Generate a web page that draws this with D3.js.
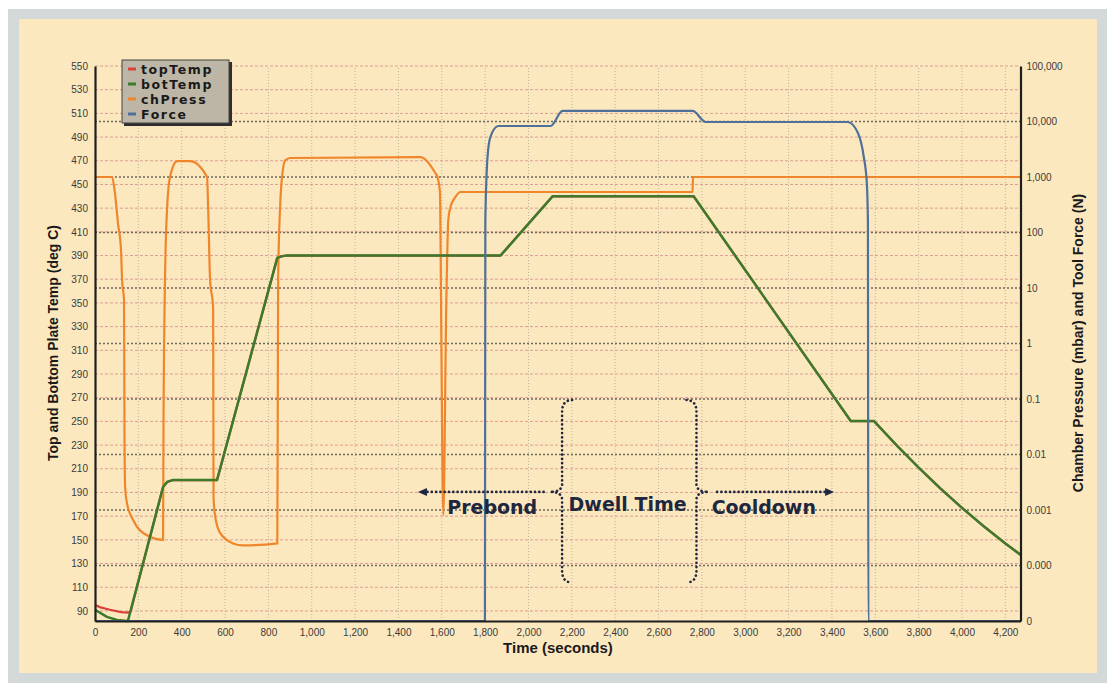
<!DOCTYPE html>
<html>
<head>
<meta charset="utf-8">
<script src="https://cdn.jsdelivr.net/npm/d3@7"></script>
<style>
  body { margin: 0; background: #fff; }
  .tick text { font-family: "Liberation Sans", Arial, sans-serif; font-size: 10px; fill: #3a3a3a; }
  .title { font-family: "Liberation Sans", Arial, sans-serif; font-weight: bold; fill: #1a1a1a; }
  .note { font-family: "DejaVu Sans", sans-serif; font-weight: bold; font-size: 19px; fill: #1f2740; }
  .legend text { font-family: "DejaVu Sans", sans-serif; font-weight: bold; font-size: 12.5px; letter-spacing: 1.6px; fill: #1a1a1a; }
</style>
</head>
<body>
<div id="chart"></div>
<script>
// tick values
const timeTicks = [0, 200, 400, 600, 800, 1000, 1200, 1400, 1600, 1800, 2000, 2200,
    2400, 2600, 2800, 3000, 3200, 3400, 3600, 3800, 4000, 4200];
const tempTicks = [90, 110, 130, 150, 170, 190, 210, 230, 250, 270, 290, 310, 330,
    350, 370, 390, 410, 430, 450, 470, 490, 510, 530, 550];
const pressTicks = [1e-5, 1e-4, 1e-3, 1e-2, 1e-1, 1, 10, 100, 1000, 10000, 100000];
const pressLabels = ['0', '0.000', '0.001', '0.01', '0.1', '1', '10', '100', '1,000', '10,000', '100,000'];

// series: [time (s), value]
const topTemp = [[0, 95], [25, 93], [69, 91], [120, 89], [155, 88.5], [165, 90], [314, 194.6],
    [333, 198.9], [360, 200.5], [563, 200.5], [841, 388], [864, 389.5], [887, 390], [1871, 390],
    [2111, 440], [2762, 440], [3487, 250.3], [3594, 250.3], [3700, 229.5], [3800, 211],
    [3900, 193.5], [4000, 177], [4100, 161.5], [4200, 147], [4273, 137]];
const botTemp = [[0, 91], [55, 85], [102, 82.4], [152, 81.6], [314, 194.6], [333, 198.9],
    [360, 200.5], [563, 200.5], [841, 388], [864, 389.5], [887, 390], [1871, 390], [2111, 440],
    [2762, 440], [3487, 250.3], [3594, 250.3], [3700, 229.5], [3800, 211], [3900, 193.5],
    [4000, 177], [4100, 161.5], [4200, 147], [4273, 137]];
const chPress = [[0, 1000], [79, 1000], [92, 515], [106, 148], [120, 48], [125, 14], [134, 6],
    [136, 0.028], [139, 0.0026], [148, 0.0013], [176, 0.00066], [240, 0.00035], [314, 0.00029],
    [316, 0.028], [323, 14], [333, 288], [346, 1000], [379, 1940], [439, 1940], [517, 1000],
    [522, 288], [531, 14], [545, 4.5], [547, 0.0017], [552, 0.0009], [575, 0.0004],
    [637, 0.00025], [684, 0.00023], [841, 0.00025], [843, 0.028], [845, 14], [854, 288],
    [865, 1180], [878, 2000], [901, 2200], [1501, 2290], [1570, 1180], [1580, 1000], [1592, 500],
    [1596, 10], [1607, 0.00081], [1621, 6], [1630, 168], [1640, 288], [1663, 436], [1686, 537],
    [2757, 537], [2759, 1000], [4273, 1000]];
const force = [[0, 0], [1799, 0], [1801, 168], [1811, 2290], [1824, 5250], [1861, 8300],
    [2102, 8300], [2157, 15500], [2757, 15500], [2818, 9800], [3473, 9800], [3520, 6200],
    [3547, 2290], [3561, 776], [3566, 168], [3568, 0], [4273, 0]];

const legendNames = ['topTemp', 'botTemp', 'chPress', 'Force'];
const colors = { topTemp: '#d8423a', botTemp: '#3d7a2c', chPress: '#f0862c', Force: '#4f7098' };

const width = 1107, height = 683;
const margin = [66, 62, 95, 86.5]; // top, bottom, left, right

const svg = d3.select('#chart').append('svg')
    .attr('width', width).attr('height', height);

// frame
svg.append('rect').attr('x', 8).attr('y', 9).attr('width', width - 8).attr('height', height - 9)
    .attr('fill', '#d3d8d8');
svg.append('rect').attr('x', 19).attr('y', 19).attr('width', 1078).attr('height', 654)
    .attr('fill', '#fce8bf');

const x = d3.scaleLinear([0, 4270], [margin[2], width - margin[3]]);
const yT = d3.scaleLinear([81.5, 550], [height - margin[1], margin[0]]);
const yP = d3.scaleLog([1e-5, 1e5], [height - margin[1], margin[0]]);

const grid = svg.append('g');
grid.selectAll('.vg').data(timeTicks.slice(1)).join('line')
    .attr('x1', d => x(d)).attr('x2', d => x(d))
    .attr('y1', yT.range()[0]).attr('y2', yT.range()[1])
    .attr('stroke', '#b9b59c').attr('stroke-dasharray', '1,2');
grid.selectAll('.rg').data(tempTicks).join('line')
    .attr('x1', x.range()[0]).attr('x2', x.range()[1])
    .attr('y1', d => yT(d)).attr('y2', d => yT(d))
    .attr('stroke', '#dc9d94').attr('stroke-dasharray', '3,2');
grid.selectAll('.pg').data(pressTicks.slice(1, -1)).join('line')
    .attr('x1', x.range()[0]).attr('x2', x.range()[1])
    .attr('y1', d => yP(d)).attr('y2', d => yP(d))
    .attr('stroke', '#6e6a5e').attr('stroke-width', 1.5).attr('stroke-dasharray', '2,2');

// series
const lineT = d3.line().x(d => x(d[0])).y(d => yT(d[1]));
const lineP = d3.line().x(d => x(d[0])).y(d => yP(Math.max(d[1], 1e-5))).curve(d3.curveMonotoneX);

svg.append('path').datum(topTemp).attr('d', lineT)
    .attr('fill', 'none').attr('stroke', colors.topTemp).attr('stroke-width', 2.2);
svg.append('path').datum(chPress).attr('d', lineP)
    .attr('fill', 'none').attr('stroke', colors.chPress).attr('stroke-width', 2.2);
svg.append('path').datum(botTemp).attr('d', lineT)
    .attr('fill', 'none').attr('stroke', colors.botTemp).attr('stroke-width', 2.5)
    .attr('stroke-linejoin', 'round');
svg.append('path').datum(force).attr('d', lineP)
    .attr('fill', 'none').attr('stroke', colors.Force).attr('stroke-width', 2.2);

// axes
const axisStyle = g => {
    g.select('.domain').attr('stroke', '#1e1e1e').attr('stroke-width', 2.2);
};
svg.append('g').attr('transform', `translate(${margin[2]},0)`)
    .call(d3.axisLeft(yT).tickValues(tempTicks).tickSize(0).tickPadding(7)).call(axisStyle);
svg.append('g').attr('transform', `translate(${width - margin[3]},0)`)
    .call(d3.axisRight(yP).tickValues(pressTicks).tickFormat((d, i) => pressLabels[i])
        .tickSize(0).tickPadding(6)).call(axisStyle);
svg.append('g').attr('transform', `translate(0,${height - margin[1]})`)
    .call(d3.axisBottom(x).tickValues(timeTicks).tickFormat(d3.format(',')).tickSize(0).tickPadding(8))
    .call(axisStyle);

// axis titles
svg.append('text').attr('class', 'title').attr('font-size', 14)
    .attr('transform', 'translate(58,343) rotate(-90)').attr('text-anchor', 'middle')
    .text('Top and Bottom Plate Temp (deg C)');
svg.append('text').attr('class', 'title').attr('font-size', 14)
    .attr('transform', 'translate(1083,343) rotate(-90)').attr('text-anchor', 'middle')
    .text('Chamber Pressure (mbar) and Tool Force (N)');
svg.append('text').attr('class', 'title').attr('font-size', 15)
    .attr('x', 558).attr('y', 653).attr('text-anchor', 'middle')
    .text('Time (seconds)');

// annotations (placed in data units)
const ink = '#1f2740';
const dots = { fill: 'none', stroke: ink, 'stroke-width': 2.6, 'stroke-dasharray': '0.1,4.2', 'stroke-linecap': 'round' };
const ann = svg.append('g');
function dotted(d) {
    const p = ann.append('path').attr('d', d);
    Object.entries(dots).forEach(([k, v]) => p.attr(k, v));
}
const yMid = yT(190.5);
// prebond arrow
dotted(`M${x(2070)},${yMid} L${x(1500)},${yMid}`);
ann.append('path').attr('d', `M${x(1490)},${yMid} l9,-4 l0,8 z`).attr('fill', ink);
// cooldown arrow
dotted(`M${x(2870)},${yMid} L${x(3395)},${yMid}`);
ann.append('path').attr('d', `M${x(3410)},${yMid} l-9,-4 l0,8 z`).attr('fill', ink);
// braces
function brace(t, dir) {
    const bx = x(t), top = yT(268), bot = yT(114);
    const tip = bx + dir * 12, end = bx - dir * 10;
    dotted(`M${end},${top} Q${bx},${top} ${bx},${top + 12} L${bx},${yMid - 8} ` +
        `Q${bx},${yMid} ${tip},${yMid} Q${bx},${yMid} ${bx},${yMid + 8} ` +
        `L${bx},${bot - 12} Q${bx},${bot} ${end},${bot}`);
}
brace(2155, -1);
brace(2775, 1);

ann.append('text').attr('class', 'note').attr('x', x(1625)).attr('y', yT(172)).text('Prebond');
ann.append('text').attr('class', 'note').attr('x', x(2185)).attr('y', yT(174)).text('Dwell Time');
ann.append('text').attr('class', 'note').attr('x', x(2845)).attr('y', yT(172)).text('Cooldown');

// legend
const legend = svg.append('g').attr('class', 'legend').attr('transform', 'translate(122,60)');
legend.append('rect').attr('x', 2).attr('y', 2).attr('width', 108).attr('height', 64).attr('fill', '#2e2e2e');
legend.append('rect').attr('width', 107).attr('height', 63)
    .attr('fill', '#bdb6a6').attr('stroke', '#444').attr('stroke-width', 1);
legend.selectAll('g.item').data(legendNames).join('g').attr('class', 'item')
    .attr('transform', (d, i) => `translate(0,${9 + i * 15})`)
    .each(function (d) {
        const g = d3.select(this);
        g.append('rect').attr('x', 6).attr('y', -1.5).attr('width', 8).attr('height', 3).attr('fill', colors[d]);
        g.append('text').attr('x', 19).attr('y', 4.5).text(d);
    });
</script>
</body>
</html>
